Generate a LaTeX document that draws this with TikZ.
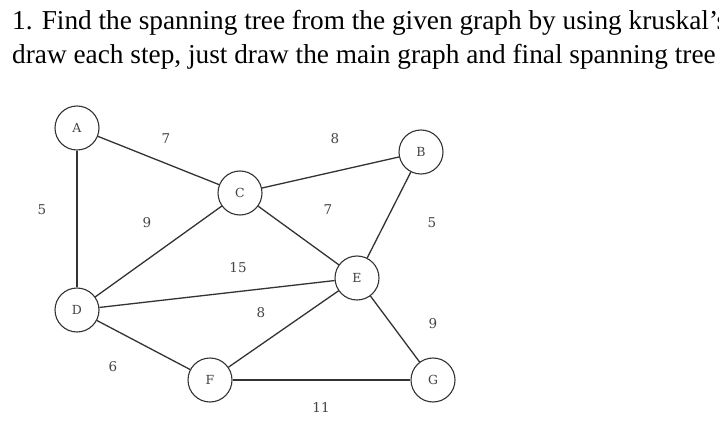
\documentclass[tikz,border=0pt]{standalone}
\usepackage{fontspec}
\setmainfont{Liberation Serif}
\newfontfamily\graphfont{DejaVu Serif}
\usepackage{xcolor}
\usetikzlibrary{positioning}
\definecolor{edgegray}{HTML}{333333}
\definecolor{labelgray}{HTML}{444444}

\begin{document}
\begin{tikzpicture}[
    x=1pt,y=-1pt,
    vertex/.style={circle,draw=edgegray,line width=1.1pt,fill=white,
                   minimum size=44pt,inner sep=0pt,font=\graphfont\fontsize{12.5}{13}\selectfont,
                   text=labelgray},
    edge/.style={draw=edgegray,line width=1.3pt},
    wt/.style={font=\graphfont\fontsize{13.5}{14}\selectfont,text=labelgray,inner sep=0pt},
    title/.style={anchor=base west,inner sep=0pt,font=\fontsize{27.3}{32}\selectfont},
]
\clip (0,0) rectangle (719,430);
\fill[white] (0,0) rectangle (719,430);

% question text, cut at the right edge
\node[title] (line1) at (12,30) {1. Find the spanning tree from the given graph by using kruskal’s};
\node[title] (line2) at (12,64) {draw each step, just draw the main graph and final spanning tree};

% vertices
\node[vertex] (A) at (77,128) {A};
\node[vertex] (C) at (240,193) {C};
\node[vertex] (B) at (421,152) {B};
\node[vertex] (E) at (357,278) {E};
\node[vertex] (D) at (77,310) {D};
\node[vertex] (F) at (210,380) {F};
\node[vertex] (G) at (433,380) {G};

% edges
\draw[edge] (A) -- (C);
\draw[edge] (A) -- (D);
\draw[edge] (C) -- (B);
\draw[edge] (C) -- (D);
\draw[edge] (C) -- (E);
\draw[edge] (B) -- (E);
\draw[edge] (D) -- (E);
\draw[edge] (D) -- (F);
\draw[edge] (E) -- (F);
\draw[edge] (E) -- (G);
\draw[edge] (F) -- (G);

% weights
\node[wt] (wAC) at (166,139) {7};
\node[wt] (wAD) at (42,210) {5};
\node[wt] (wCD) at (147,223) {9};
\node[wt] (wCB) at (335,139) {8};
\node[wt] (wCE) at (328,210) {7};
\node[wt] (wBE) at (432,223) {5};
\node[wt] (wDE) at (238,268) {15};
\node[wt] (wEF) at (261,313) {8};
\node[wt] (wDF) at (113,367) {6};
\node[wt] (wEG) at (433,324) {9};
\node[wt] (wFG) at (321,407) {11};
\end{tikzpicture}
\end{document}
